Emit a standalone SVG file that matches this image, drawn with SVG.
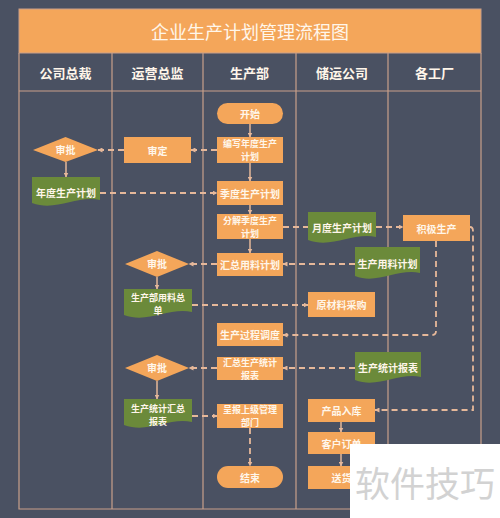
<svg xmlns="http://www.w3.org/2000/svg" width="500" height="518" viewBox="0 0 500 518">
<defs>
<marker id="ah" viewBox="0 0 10 10" refX="9" refY="5" markerWidth="5" markerHeight="5" orient="auto" markerUnits="userSpaceOnUse">
<path d="M0,0 L10,5 L0,10 z" fill="#e6b89a"/>
</marker>
<style>
.bg{fill:#4a5162}
.grid{stroke:#c9a08a;stroke-width:1.2;fill:none}
.proc{fill:#f4a65a}
.doc{fill:#6b8a3a}
.t{font-family:"Noto Sans CJK SC","Noto Sans",sans-serif;font-weight:bold;fill:#fff6ea;text-anchor:middle;dominant-baseline:central;font-size:10px}
.m{font-size:9px}
.h{font-size:13px}
.title{font-size:18px;font-weight:normal}
.c{stroke:#e6b89a;stroke-width:1.8;fill:none;stroke-dasharray:6 4}
.s{stroke:#e6b89a;stroke-width:1.5;fill:none}
.wm{font-family:"Noto Sans CJK SC",sans-serif;font-size:35px;fill:#d2d2d2;dominant-baseline:central}
</style>
</defs>
<rect class="bg" x="0" y="0" width="500" height="518"/>
<g id="title">
<rect x="19" y="9" width="462" height="44" fill="#f4a65a" stroke="#c9a08a" stroke-width="1"/>
<text class="t title" x="250" y="31">企业生产计划管理流程图</text>
</g>
<g id="lanes">
<path class="grid" d="M19 53 V509 H481 V53 M19 91 H481 M112 53 V509 M203 53 V509 M296 53 V509 M388 53 V509"/>
<text class="t h" x="65.5" y="72">公司总裁</text>
<text class="t h" x="157.5" y="72">运营总监</text>
<text class="t h" x="249.5" y="72">生产部</text>
<text class="t h" x="342" y="72">储运公司</text>
<text class="t h" x="434.5" y="72">各工厂</text>
</g>
<g id="connectors">
<path class="s" d="M250 124 V137" marker-end="url(#ah)"/>
<path class="c" d="M217 150 H191" marker-end="url(#ah)"/>
<path class="c" d="M124 150 H98" marker-end="url(#ah)"/>
<path class="s" d="M66 162 V177" marker-end="url(#ah)"/>
<path class="c" d="M100 193 H217" marker-end="url(#ah)"/>
<path class="s" d="M250 163 V181" marker-end="url(#ah)"/>
<path class="s" d="M250 205 V214" marker-end="url(#ah)"/>
<path class="c" d="M283 227 H308"/>
<path class="c" d="M376 227 H403" marker-end="url(#ah)"/>
<path class="c" d="M436 241 V331 Q436 335 432 335 H283" marker-end="url(#ah)"/>
<path class="c" d="M470 227 Q473 227 473 231 V410 H375" marker-end="url(#ah)"/>
<path class="s" d="M250 239 V253" marker-end="url(#ah)"/>
<path class="c" d="M355 264 H283" marker-end="url(#ah)"/>
<path class="c" d="M217 264 H189" marker-end="url(#ah)"/>
<path class="s" d="M157 277 V289" marker-end="url(#ah)"/>
<path class="c" d="M192 305 H308" marker-end="url(#ah)"/>
<path class="c" d="M355 368 H283" marker-end="url(#ah)"/>
<path class="c" d="M217 368 H189" marker-end="url(#ah)"/>
<path class="s" d="M157 381 V399" marker-end="url(#ah)"/>
<path class="c" d="M192 416 H217" marker-end="url(#ah)"/>
<path class="c" d="M250 428 V466" marker-end="url(#ah)"/>
<path class="s" d="M341 422 V432" marker-end="url(#ah)"/>
<path class="s" d="M341 454 V466" marker-end="url(#ah)"/>
</g>
<g id="start"><rect class="proc" x="217" y="103" width="66" height="21" rx="10.5"/><text class="t" x="250" y="113.5">开始</text></g>
<g id="bianxie"><rect class="proc" x="217" y="137" width="66" height="26"/><text class="t m" x="250" y="143.4">编写年度生产</text><text class="t m" x="250" y="156.6">计划</text></g>
<g id="shending"><rect class="proc" x="124" y="137" width="67" height="26"/><text class="t" x="157.5" y="150">审定</text></g>
<g id="shenpi1"><polygon class="proc" points="33,150 65.5,137 98,150 65.5,162"/><text class="t" x="65.5" y="149.5">审批</text></g>
<g id="niandu"><path class="doc" d="M32 177 H100 V200 C77 195 56 212 32 203 Z"/><text class="t" x="66" y="192">年度生产计划</text></g>
<g id="jidu"><rect class="proc" x="217" y="181" width="66" height="24"/><text class="t" x="250" y="193">季度生产计划</text></g>
<g id="fenjie"><rect class="proc" x="217" y="214" width="66" height="25"/><text class="t m" x="250" y="220">分解季度生产</text><text class="t m" x="250" y="233.2">计划</text></g>
<g id="yuedu"><path class="doc" d="M308 212 H376 V237 C353 232 332 249 308 240 Z"/><text class="t" x="342" y="227">月度生产计划</text></g>
<g id="jiji"><rect class="proc" x="403" y="215" width="67" height="26"/><text class="t" x="436.5" y="228">积极生产</text></g>
<g id="yongliao"><path class="doc" d="M355 247 H420 V273 C398 268 377 285 355 276 Z"/><text class="t" x="387.5" y="263">生产用料计划</text></g>
<g id="huizongyl"><rect class="proc" x="217" y="253" width="66" height="23"/><text class="t" x="250" y="264">汇总用料计划</text></g>
<g id="shenpi2"><polygon class="proc" points="125,264 157,251 189,264 157,277"/><text class="t" x="157" y="263.5">审批</text></g>
<g id="zongdan"><path class="doc" d="M124 289 H192 V312 C169 307 148 324 124 315 Z"/><text class="t m" x="158" y="297.5">生产部用料总</text><text class="t m" x="158" y="310.7">单</text></g>
<g id="caigou"><rect class="proc" x="308" y="292" width="67" height="25"/><text class="t" x="341.5" y="304.5">原材料采购</text></g>
<g id="diaodu"><rect class="proc" x="217" y="323" width="66" height="23"/><text class="t" x="250" y="334.5">生产过程调度</text></g>
<g id="huizongtj"><rect class="proc" x="217" y="357" width="66" height="23"/><text class="t m" x="250" y="362">汇总生产统计</text><text class="t m" x="250" y="375.2">报表</text></g>
<g id="shenpi3"><polygon class="proc" points="125,368 157,355 189,368 157,381"/><text class="t" x="157" y="367.5">审批</text></g>
<g id="tongji"><path class="doc" d="M355 352 H421 V377 C399 372 378 389 355 380 Z"/><text class="t" x="388" y="367">生产统计报表</text></g>
<g id="tjhz"><path class="doc" d="M124 399 H192 V422 C169 417 148 434 124 425 Z"/><text class="t m" x="158" y="408.5">生产统计汇总</text><text class="t m" x="158" y="421.7">报表</text></g>
<g id="chengbao"><rect class="proc" x="217" y="404" width="66" height="24"/><text class="t m" x="250" y="409.5">呈报上级管理</text><text class="t m" x="250" y="422.7">部门</text></g>
<g id="end"><rect class="proc" x="217" y="466" width="66" height="22" rx="11"/><text class="t" x="250" y="477">结束</text></g>
<g id="ruku"><rect class="proc" x="308" y="399" width="67" height="23"/><text class="t" x="341.5" y="410.5">产品入库</text></g>
<g id="dingdan"><rect class="proc" x="308" y="432" width="67" height="22"/><text class="t" x="341.5" y="443">客户订单</text></g>
<g id="songhuo"><rect class="proc" x="308" y="466" width="67" height="23"/><text class="t" x="341.5" y="477.5">送货</text></g>
<g id="watermark"><rect x="350" y="444" width="150" height="74" fill="#ffffff"/><text class="wm" x="355" y="481">软件技巧</text></g>
</svg>
